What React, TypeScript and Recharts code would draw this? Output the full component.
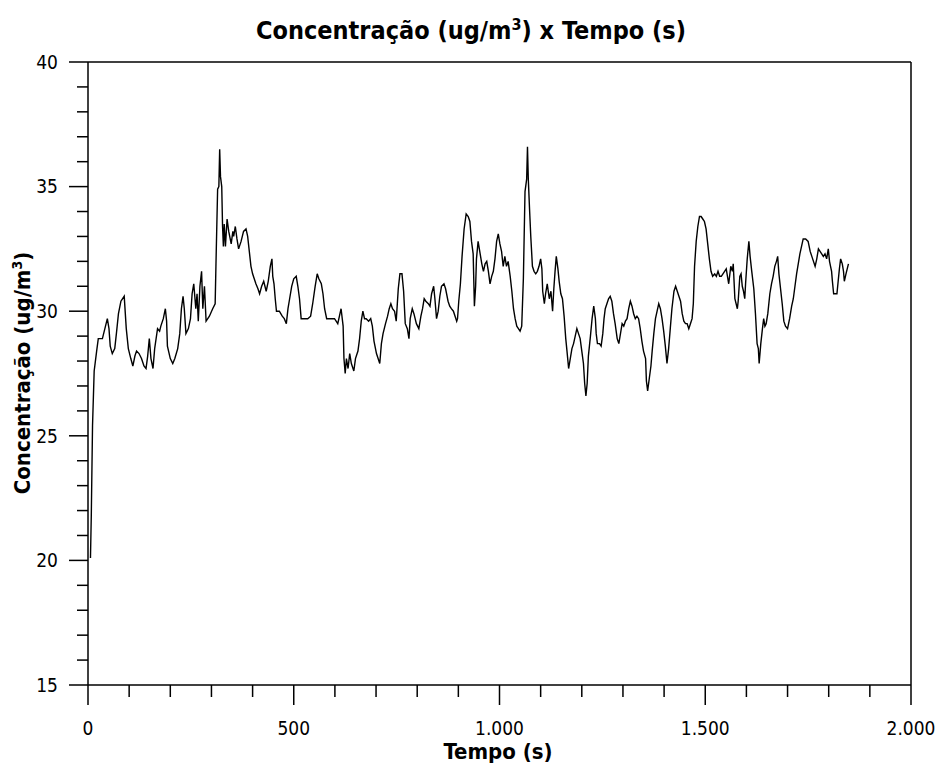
import React from 'react';
import { LineChart, Line, XAxis, YAxis, ReferenceLine } from 'recharts';

// Tempo (s)
const times: number[] = [
  6, 8, 11, 15, 21, 25, 35, 41, 47, 51, 54, 59, 65, 69, 74, 80, 88, 93, 98, 104,
  109, 114, 118, 124, 130, 136, 141, 145, 149, 153, 158, 162, 169, 174, 177, 183, 188, 191, 193, 200,
  206, 211, 218, 223, 227, 231, 234, 238, 244, 249, 253, 257, 262, 265, 268, 272, 276, 279,
  283, 287, 295, 303, 309, 311, 315, 318, 320, 322, 325, 327, 329, 331, 334, 338, 342, 348, 352, 354,
  358, 362, 366, 372, 378, 384, 388, 392, 396, 400, 404, 408, 413, 417, 422, 427, 433, 438, 443, 447,
  449, 452, 455, 458, 465, 472, 477, 482, 486, 490, 495, 500, 506, 510, 514, 518, 526, 534, 541, 546,
  552, 557, 561, 567, 571, 575,
  580, 591, 599, 603, 607, 611, 615, 620, 622, 625, 628, 632, 636, 640, 644, 646, 650, 656, 660, 664,
  668, 672, 676, 682, 687, 691, 695, 701, 705, 709, 713, 717, 723, 728, 732, 736, 740, 745, 749, 754,
  758, 763, 767, 771, 776, 780, 783, 788, 792, 798, 804, 809, 813, 817, 821, 827, 831, 835, 840, 843,
  847, 851, 855, 859, 865,
  869, 875, 879, 883, 888, 892, 896, 898, 901, 905, 909, 914, 919, 924, 928, 932, 936, 939, 942, 944,
  948, 952, 957, 961, 965, 969, 973, 977, 981, 985, 989, 993, 997, 1001, 1005, 1009, 1013, 1017, 1021, 1026,
  1030, 1034, 1038, 1042, 1046, 1050, 1054, 1058, 1062, 1066, 1068, 1070, 1073, 1076, 1080, 1084, 1088, 1092, 1096, 1100,
  1103, 1105, 1109, 1112, 1116, 1121, 1125, 1129, 1132, 1135, 1138, 1142, 1145, 1149, 1153, 1157, 1161,
  1164, 1168, 1172, 1176, 1180, 1184, 1188, 1192, 1196, 1200, 1204, 1207, 1210, 1213, 1216, 1221, 1225, 1229, 1233, 1235,
  1238, 1243, 1247, 1251, 1254, 1257, 1261, 1265, 1269, 1273, 1277, 1281, 1286, 1290, 1294, 1298, 1302, 1306, 1310, 1314,
  1318, 1322, 1326, 1330, 1334, 1338, 1342, 1346, 1350, 1355, 1357, 1360, 1364, 1368, 1371, 1375, 1379, 1383, 1387, 1391,
  1395, 1399, 1403, 1407, 1411, 1415, 1419, 1424, 1428, 1432, 1436, 1440, 1444, 1448,
  1452, 1456, 1460, 1464, 1468, 1471, 1474, 1478, 1482, 1486, 1490, 1494, 1498, 1502, 1506, 1510, 1514, 1518, 1523, 1527,
  1531, 1535, 1539, 1543, 1547, 1551, 1555, 1557, 1562, 1566, 1568, 1572, 1578, 1580, 1584, 1587, 1590, 1593, 1596, 1598,
  1602, 1606, 1609, 1613, 1618, 1622, 1626, 1629, 1631, 1635, 1639, 1642, 1645, 1648, 1652, 1657, 1661, 1665, 1669, 1673,
  1676, 1679, 1683, 1687, 1691, 1695, 1700, 1705, 1710, 1714, 1718, 1722, 1726, 1730,
  1734, 1738, 1744, 1750, 1755, 1759, 1763, 1767, 1771, 1775, 1779, 1783, 1787, 1791, 1795, 1799, 1802, 1807, 1809, 1812,
  1816, 1820, 1823, 1826, 1829, 1833, 1836, 1838, 1842, 1845, 1848,
];

// Concentração (ug/m3)
const conc: number[] = [
  20.1, 21.8, 25.4, 27.6, 28.4, 28.9, 28.9, 29.3, 29.7, 29.3, 28.6, 28.3, 28.5, 29.1, 29.9, 30.4, 30.6, 29.3, 28.5, 28.1,
  27.8, 28.2, 28.4, 28.3, 28.1, 27.8, 27.7, 28.2, 28.9, 28.1, 27.7, 28.5, 29.3, 29.2, 29.4, 29.7, 30.1, 29.6, 28.6, 28.1,
  27.9, 28.1, 28.5, 29.1, 30.1, 30.6, 30.1, 29.1, 29.3, 29.7, 30.7, 31.1, 30.1, 30.7, 29.6, 31.0, 31.6, 30.1,
  31.0, 29.6, 29.8, 30.1, 30.3, 31.9, 34.9, 35.0, 36.5, 35.4, 35.0, 33.4, 32.6, 33.5, 32.6, 33.7, 33.2, 32.7, 33.2, 33.0,
  33.4, 32.9, 32.5, 32.8, 33.2, 33.3, 33.0, 32.4, 31.8, 31.5, 31.3, 31.1, 30.9, 30.7, 31.0, 31.2, 30.8, 31.2, 31.8, 32.1,
  31.4, 31.1, 30.5, 30.0, 30.0, 29.8, 29.7, 29.5, 30.1, 30.5, 31.0, 31.3, 31.4, 31.0, 30.5, 29.7, 29.7, 29.7, 29.8, 30.3,
  31.0, 31.5, 31.3, 31.1, 30.7, 30.1,
  29.7, 29.7, 29.7, 29.6, 29.5, 29.8, 30.1, 29.4, 28.1, 27.5, 28.1, 27.7, 28.3, 27.9, 27.7, 27.6, 28.1, 28.4, 28.9, 29.6,
  30.0, 29.7, 29.7, 29.6, 29.7, 29.4, 28.8, 28.3, 28.1, 27.9, 28.7, 29.1, 29.5, 29.8, 30.1, 30.3, 30.1, 30.0, 29.6, 30.9,
  31.5, 31.5, 30.8, 29.5, 29.3, 28.9, 29.7, 30.1, 29.9, 29.5, 29.3, 29.8, 30.1, 30.5, 30.4, 30.3, 30.2, 30.7, 31.0, 30.5,
  29.7, 30.0, 30.6, 31.0, 31.1,
  30.9, 30.4, 30.2, 30.1, 30.0, 29.8, 29.6, 29.7, 30.4, 31.1, 32.2, 33.3, 33.9, 33.8, 33.6, 32.8, 32.3, 30.2, 31.0, 32.1,
  32.8, 32.4, 31.9, 31.6, 31.9, 32.0, 31.6, 31.1, 31.4, 31.6, 32.1, 32.8, 33.1, 32.7, 32.4, 31.8, 32.2, 31.8, 32.0, 31.4,
  30.8, 30.1, 29.7, 29.4, 29.3, 29.2, 29.4, 31.3, 34.8, 35.3, 36.6, 35.3, 34.1, 33.0, 31.8, 31.6, 31.5, 31.6, 31.8, 32.1,
  31.7, 30.8, 30.3, 30.7, 31.1, 30.5, 30.8, 30.0, 30.9, 31.6, 32.2, 31.7, 31.2, 30.7, 30.5, 29.8, 28.9,
  28.4, 27.7, 28.1, 28.5, 28.7, 29.0, 29.3, 29.1, 28.9, 28.4, 27.9, 27.1, 26.6, 27.1, 28.2, 29.0, 29.7, 30.2, 29.7, 29.1,
  28.7, 28.7, 28.6, 29.1, 29.7, 30.1, 30.3, 30.5, 30.6, 30.4, 29.9, 29.5, 28.9, 28.7, 29.1, 29.5, 29.4, 29.6, 29.7, 30.1,
  30.4, 30.2, 29.9, 29.7, 29.8, 29.7, 29.3, 28.8, 28.4, 28.1, 27.2, 26.8, 27.3, 27.8, 28.4, 29.1, 29.7, 30.0, 30.3, 30.1,
  29.7, 29.2, 28.6, 27.9, 28.5, 29.3, 30.1, 30.8, 31.0, 30.8, 30.6, 30.4, 29.9, 29.6,
  29.5, 29.5, 29.3, 29.5, 29.7, 30.3, 31.8, 32.8, 33.4, 33.8, 33.8, 33.7, 33.6, 33.3, 32.7, 32.1, 31.6, 31.4, 31.5, 31.4,
  31.6, 31.4, 31.4, 31.5, 31.6, 31.7, 31.3, 31.1, 31.8, 31.6, 31.9, 30.5, 30.1, 30.4, 31.4, 31.5, 31.0, 30.8, 30.5, 31.1,
  32.1, 32.8, 32.2, 31.6, 30.9, 29.9, 28.7, 28.5, 27.9, 28.7, 29.3, 29.7, 29.4, 29.5, 29.9, 30.7, 31.1, 31.4, 31.8, 32.0,
  32.2, 31.5, 30.9, 30.3, 29.6, 29.4, 29.3, 29.7, 30.2, 30.5, 31.0, 31.5, 31.9, 32.3,
  32.6, 32.9, 32.9, 32.8, 32.4, 32.2, 32.0, 31.8, 32.1, 32.5, 32.4, 32.3, 32.2, 32.3, 32.1, 32.5, 32.0, 31.6, 31.2, 30.7,
  30.7, 30.7, 31.2, 31.7, 32.1, 31.9, 31.6, 31.2, 31.5, 31.7, 31.9,
];

const xTicks: number[] = [0, 100, 200, 300, 400, 500, 600, 700, 800, 900, 1000, 1100, 1200, 1300, 1400, 1500, 1600, 1700, 1800, 1900, 2000];
const xMajorTicks: number[] = [0, 500, 1000, 1500, 2000];
const xMajorLabels: string[] = ['0', '500', '1.000', '1.500', '2.000'];

const yTicks: number[] = [15, 16, 17, 18, 19, 20, 21, 22, 23, 24, 25, 26, 27, 28, 29, 30, 31, 32, 33, 34, 35, 36, 37, 38, 39, 40];
const yMajorTicks: number[] = [15, 20, 25, 30, 35, 40];
const yMajorLabels: string[] = ['15', '20', '25', '30', '35', '40'];

const data = times.map((t, i) => ({ t, c: conc[i] }));

const FONT = "'DejaVu Sans Condensed', 'DejaVu Sans', sans-serif";

const XTick = (props: any) => {
  const { x, y, payload } = props;
  const idx = xMajorTicks.indexOf(payload.value);
  const major = idx >= 0;
  return (
    <g>
      <line x1={x} x2={x} y1={y} y2={y + (major ? 20 : 12)} stroke="#000" strokeWidth={1.5} />
      {major && (
        <text x={x} y={y + 50} textAnchor="middle" fontFamily={FONT} fontSize={19} fill="#000">
          {xMajorLabels[idx]}
        </text>
      )}
    </g>
  );
};

const YTick = (props: any) => {
  const { x, y, payload } = props;
  const idx = yMajorTicks.indexOf(payload.value);
  const major = idx >= 0;
  return (
    <g>
      <line x1={x} x2={x - (major ? 19 : 11)} y1={y} y2={y} stroke="#000" strokeWidth={1.5} />
      {major && (
        <text x={x - 30} y={y} dy="0.36em" textAnchor="end" fontFamily={FONT} fontSize={19} fill="#000">
          {yMajorLabels[idx]}
        </text>
      )}
    </g>
  );
};

export default function App() {
  return (
    <div style={{ position: 'relative', width: 937, height: 767, background: '#fff' }}>
      <style>{'body{margin:0;background:#fff}'}</style>
      <LineChart width={937} height={767} data={data} margin={{ top: 62, right: 26, bottom: 0, left: 0 }}>
        <XAxis
          dataKey="t"
          type="number"
          domain={[0, 2000]}
          ticks={xTicks}
          interval={0}
          tick={XTick}
          tickLine={false}
          tickSize={0}
          tickMargin={0}
          height={82}
          axisLine={{ stroke: '#000', strokeWidth: 1.5 }}
        />
        <YAxis
          type="number"
          domain={[15, 40]}
          ticks={yTicks}
          interval={0}
          tick={YTick}
          tickLine={false}
          tickSize={0}
          tickMargin={0}
          width={88}
          axisLine={{ stroke: '#000', strokeWidth: 1.5 }}
        />
        <ReferenceLine y={40} stroke="#000" strokeWidth={1.5} />
        <ReferenceLine x={2000} stroke="#000" strokeWidth={1.5} />
        <Line
          type="linear"
          dataKey="c"
          stroke="#000"
          strokeWidth={1.4}
          dot={false}
          isAnimationActive={false}
        />
      </LineChart>
      <svg width={937} height={767} style={{ position: 'absolute', left: 0, top: 0, pointerEvents: 'none' }}>
        <text x={471} y={39} textAnchor="middle" fontFamily={FONT} fontWeight="bold" fontSize={25} fill="#000">
          <tspan>Concentração (ug/m</tspan>
          <tspan fontSize={16} dy={-9}>3</tspan>
          <tspan dy={9}>) x Tempo (s)</tspan>
        </text>
        <text
          transform="translate(30,373) rotate(-90)"
          textAnchor="middle"
          fontFamily={FONT}
          fontWeight="bold"
          fontSize={22}
          fill="#000"
        >
          <tspan>Concentração (ug/m</tspan>
          <tspan fontSize={14} dy={-8}>3</tspan>
          <tspan dy={8}>)</tspan>
        </text>
        <text x={498} y={759} textAnchor="middle" fontFamily={FONT} fontWeight="bold" fontSize={22} fill="#000">
          Tempo (s)
        </text>
      </svg>
    </div>
  );
}
